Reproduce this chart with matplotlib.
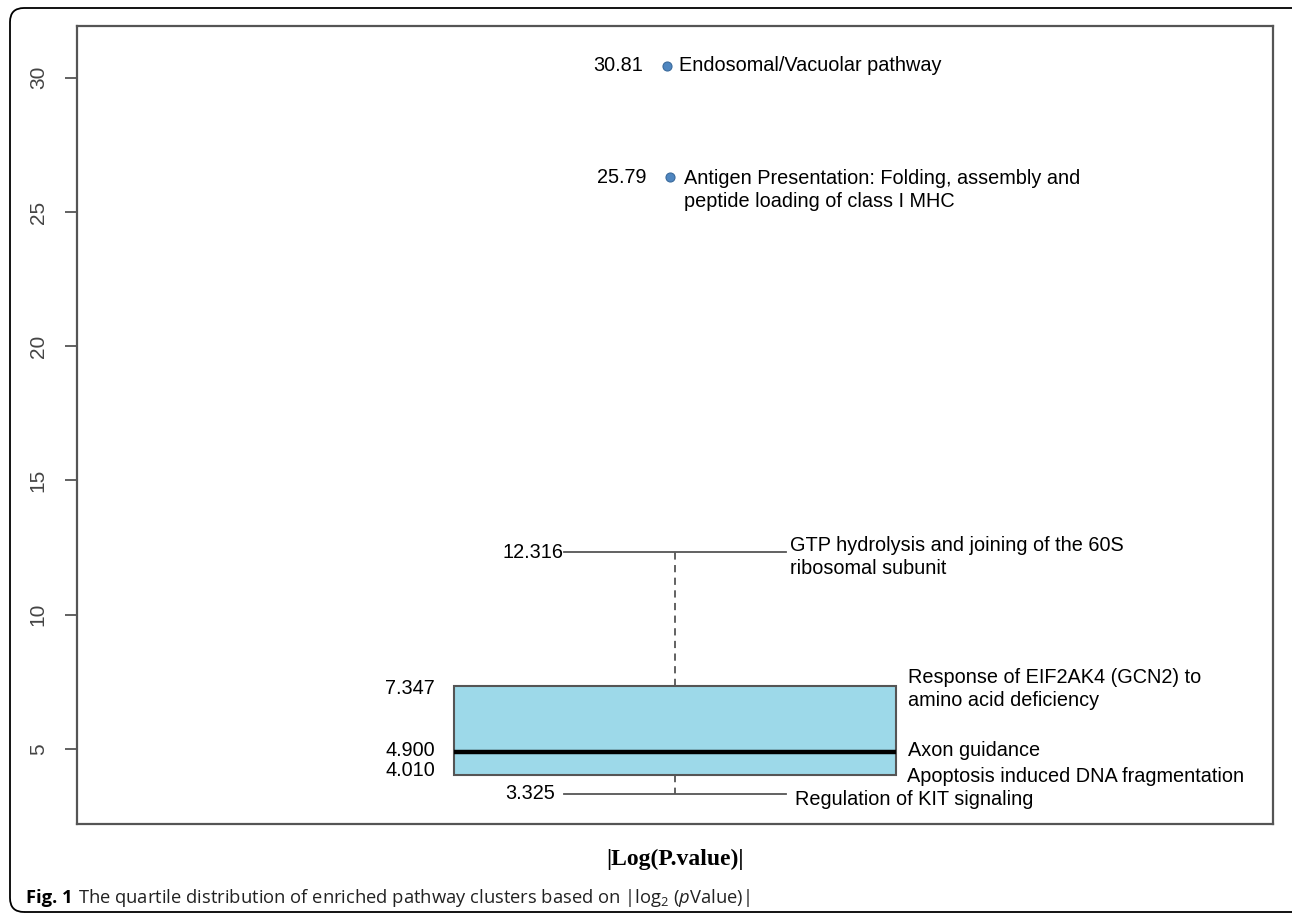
import matplotlib
matplotlib.use("Agg")
import matplotlib.pyplot as plt
from matplotlib.patches import FancyBboxPatch
from matplotlib.transforms import IdentityTransform

plt.rcParams['font.family'] = ['Liberation Sans', 'DejaVu Sans']

# quartile values of |log2(pValue)|
q_low = 3.325
q1 = 4.010
median = 4.900
q3 = 7.347
q_high = 12.316
outliers = [30.45, 26.30]   # positions as drawn in the figure
outlier_labels = ["30.81", "25.79"]

value_labels = ["12.316", "7.347", "4.900", "4.010", "3.325"]
pathways = [
    "GTP hydrolysis and joining of the 60S\nribosomal subunit",
    "Response of EIF2AK4 (GCN2) to\namino acid deficiency",
    "Axon guidance",
    "Apoptosis induced DNA fragmentation",
    "Regulation of KIT signaling",
]
outlier_pathways = [
    "Endosomal/Vacuolar pathway",
    "Antigen Presentation: Folding, assembly and\npeptide loading of class I MHC",
]

W, H = 1292, 915
fig = plt.figure(figsize=(W / 100, H / 100), dpi=100)
ax = fig.add_axes([77 / W, 1 - 824 / H, (1273 - 77) / W, (824 - 26) / H])

stats = [dict(med=median, q1=q1, q3=q3, whislo=q_low, whishi=q_high, fliers=[])]
ax.bxp(stats, positions=[0.5], widths=0.37, capwidths=0.185, patch_artist=True,
       showfliers=False,
       boxprops=dict(facecolor='#9dd9e9', edgecolor='#555555', linewidth=1.5),
       medianprops=dict(color='black', linewidth=3.2),
       whiskerprops=dict(color='#555555', linewidth=1.3, linestyle=(0, (4, 3))),
       capprops=dict(color='#555555', linewidth=1.3))
ax.plot([0.493, 0.496], outliers, 'o', ms=6.5, mfc='#4f86c0', mec='#3a6a9c', mew=0.8)

ax.set_xlim(0, 1)
ax.set_ylim(2.2, 31.93)
ax.set_xticks([])
ax.set_yticks([5, 10, 15, 20, 25, 30])
ax.tick_params(axis='y', length=9, width=1.3, color='#555555', pad=12,
               labelsize=15, labelcolor='#444444')
for lab in ax.get_yticklabels():
    lab.set_rotation(90)
    lab.set_va('center')
for sp in ax.spines.values():
    sp.set_color('#555555')
    sp.set_linewidth(1.6)

fs = 14.3
def px(x):
    return (x - 77) / (1273 - 77)

# left-side numbers and right-side pathway names
num_x = [563, 435, 435, 435, 555]
num_y = [12.316, 7.25, 4.95, 4.2, 3.35]
name_x = [790, 908, 908, 907, 795]
name_y = [12.316, 7.4, 4.95, 3.98, 3.1]
name_va = ['top', 'top', 'center', 'center', 'center']
for i in range(5):
    ax.text(px(num_x[i]), num_y[i], value_labels[i], ha='right', va='center', fontsize=fs)
    if name_va[i] == 'top':
        ax.text(px(name_x[i]), name_y[i] + 0.62, pathways[i], ha='left', va='top',
                fontsize=fs, linespacing=1.25)
    else:
        ax.text(px(name_x[i]), name_y[i], pathways[i], ha='left', va='center', fontsize=fs)

ax.text(px(643), outliers[0], outlier_labels[0], ha='right', va='center', fontsize=fs)
ax.text(px(679), outliers[0], outlier_pathways[0], ha='left', va='center', fontsize=fs)
ax.text(px(647), outliers[1], outlier_labels[1], ha='right', va='center', fontsize=fs)
ax.text(px(684), outliers[1] + 0.3, outlier_pathways[1], ha='left', va='top',
        fontsize=fs, linespacing=1.25)

fig.text(675 / W, 1 - 859 / H, "|Log(P.value)|", ha='center', va='center',
         fontsize=17, fontweight='bold', family='Liberation Serif')

# caption
plt.rcParams['mathtext.fontset'] = 'custom'
plt.rcParams['mathtext.rm'] = 'Open Sans'
plt.rcParams['mathtext.it'] = 'Open Sans:italic'
cap1 = fig.text(26 / W, 1 - 898 / H, "Fig. 1", ha='left', va='center', fontsize=13.2,
                fontweight='bold', family='Open Sans')
fig.canvas.draw()
bb = cap1.get_window_extent()
fig.text((bb.x1 + 5) / W, 1 - 898 / H,
         r"The quartile distribution of enriched pathway clusters based on |log$_2$ ($\it{p}$Value)|",
         ha='left', va='center', fontsize=13.2, family='Open Sans', color='#222222')

# rounded outer frame
frame = FancyBboxPatch((10, 3), 1320, 904, boxstyle="round,pad=0,rounding_size=14",
                       transform=IdentityTransform(), fill=False, edgecolor='black',
                       linewidth=1.3)
fig.patches.append(frame)

fig.savefig("out.png", dpi=100)
